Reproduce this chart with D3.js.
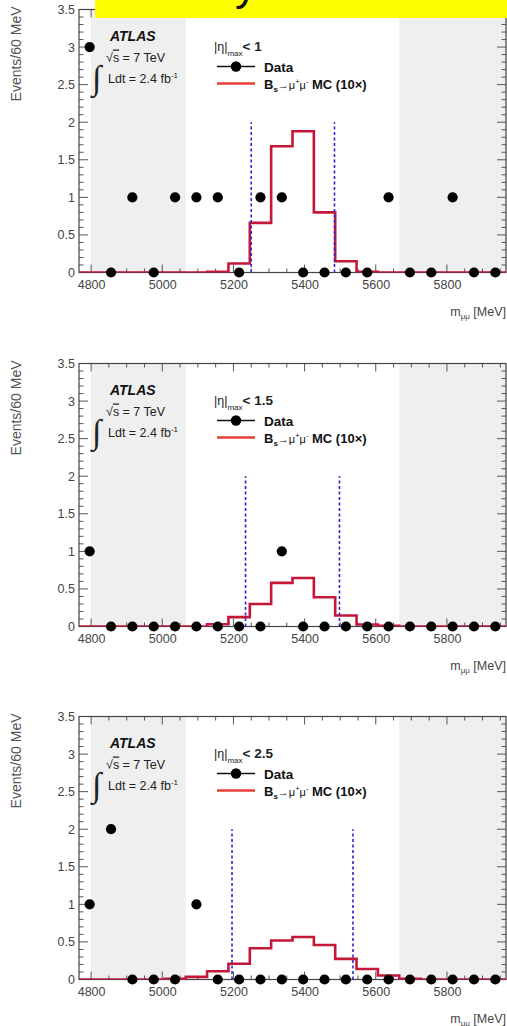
<!DOCTYPE html>
<html><head><meta charset="utf-8">
<script src="https://cdn.jsdelivr.net/npm/d3@7"></script>
<style>body{margin:0;background:#fff;} svg{display:block;font-family:"Liberation Sans",Arial,Helvetica,sans-serif;}</style>
</head><body><svg id="c" width="507" height="1026"></svg>
<script>
// ---------------- data ----------------
const binCenters = [4796,4856,4916,4976,5036,5096,5156,5216,5276,5336,5396,5456,5516,5576,5636,5696,5756,5816,5876,5936];
const binWidth = 60;
const xDomain = [4766, 5966];
const yDomain = [0, 3.5];
const xTickValues = [4800, 5000, 5200, 5400, 5600, 5800];
const xTickLabels = ["4800", "5000", "5200", "5400", "5600", "5800"];
const yTickValues = [0, 0.5, 1, 1.5, 2, 2.5, 3, 3.5];
const yTickLabels = ["0", "0.5", "1", "1.5", "2", "2.5", "3", "3.5"];
const etaCuts = ["< 1", "< 1.5", "< 2.5"];
const dataEta1  = [3,0,1,0,1,1,1,0,1,1,0,0,0,0,1,0,0,1,0,0];
const dataEta15 = [1,0,0,0,0,0,0,0,0,1,0,0,0,0,0,0,0,0,0,0];
const dataEta25 = [1,2,0,0,0,1,0,0,0,0,0,0,0,0,0,0,0,0,0,0];
const mcEta1  = [0,0,0,0,0,0,0.01,0.12,0.66,1.68,1.88,0.80,0.15,0.01,0,0,0,0,0,0];
const mcEta15 = [0,0,0,0,0,0,0.03,0.125,0.30,0.58,0.645,0.39,0.147,0.027,0.01,0,0,0,0,0];
const mcEta25 = [0,0,0,0,0.01,0.035,0.11,0.21,0.415,0.52,0.565,0.46,0.275,0.14,0.053,0.01,0,0,0,0];
const signalWindows = [[5250,5484],[5234,5498],[5196,5536]];
const windowTop = 2;
const sidebands = [[4800,5066],[5666,5966]];
const xTitle = "[MeV]";
const yTitle = "Events/60 MeV";
const bannerText = "Study";

const panels = [
  {data: dataEta1, mc: mcEta1, cut: etaCuts[0], win: signalWindows[0]},
  {data: dataEta15, mc: mcEta15, cut: etaCuts[1], win: signalWindows[1]},
  {data: dataEta25, mc: mcEta25, cut: etaCuts[2], win: signalWindows[2]}
];

// ---------------- layout ----------------
const left = 79, right = 506, panelH = 263;
const tops = [9.5, 363.5, 716.5];
const svg = d3.select("#c");
const x = d3.scaleLinear().domain(xDomain).range([left, right]);

panels.forEach((p, i) => {
  const T = tops[i], B = T + panelH;
  const y = d3.scaleLinear().domain(yDomain).range([B, T]);
  const g = svg.append("g");
  const clipId = "clip" + i;
  svg.append("clipPath").attr("id", clipId).append("rect")
    .attr("x", left).attr("y", T - 6).attr("width", right - left).attr("height", panelH + 6);

  // sidebands
  g.selectAll(".sb").data(sidebands).join("rect")
    .attr("x", d => x(d[0])).attr("y", T).attr("width", d => x(d[1]) - x(d[0])).attr("height", panelH)
    .attr("fill", "#efefef").attr("clip-path", `url(#${clipId})`);

  // ticks (major + minor, inward on all four sides)
  const xMinor = d3.range(4800, 5966, 50);
  const yMinor = d3.range(0, 3.5001, 0.1);
  const tg = g.append("g").attr("stroke", "#555").attr("stroke-width", 1);
  xMinor.forEach(v => {
    const L = (v % 200 === 0) ? 8 : 4;
    tg.append("line").attr("x1", x(v)).attr("x2", x(v)).attr("y1", B).attr("y2", B - L);
    tg.append("line").attr("x1", x(v)).attr("x2", x(v)).attr("y1", T).attr("y2", T + L);
  });
  yMinor.forEach((v, k) => {
    const L = (k % 5 === 0) ? 9 : 4.5;
    tg.append("line").attr("x1", left).attr("x2", left + L).attr("y1", y(v)).attr("y2", y(v));
    tg.append("line").attr("x1", right).attr("x2", right - L).attr("y1", y(v)).attr("y2", y(v));
  });

  // tick labels via d3 axes
  const ax = g.append("g").attr("transform", `translate(0,${B})`)
    .call(d3.axisBottom(x).tickValues(xTickValues).tickFormat((d, k) => xTickLabels[k]).tickSize(0).tickPadding(8));
  ax.select(".domain").remove();
  ax.selectAll("text").attr("font-size", 12.5).attr("fill", "#444").attr("font-family", "Liberation Sans");
  const ay = g.append("g").attr("transform", `translate(${left},0)`)
    .call(d3.axisLeft(y).tickValues(yTickValues).tickFormat((d, k) => yTickLabels[k]).tickSize(0).tickPadding(4));
  ay.select(".domain").remove();
  ay.selectAll("text").attr("font-size", 12.5).attr("fill", "#444").attr("font-family", "Liberation Sans");

  // frame
  g.append("rect").attr("x", left).attr("y", T).attr("width", right - left).attr("height", panelH)
    .attr("fill", "none").attr("stroke", "#444").attr("stroke-width", 1.2);

  // MC histogram (step)
  const pts = p.mc.map((v, k) => [binCenters[k] - binWidth / 2, v]);
  pts.push([binCenters[binCenters.length - 1] + binWidth / 2, p.mc[p.mc.length - 1]]);
  const line = d3.line().x(d => x(d[0])).y(d => y(d[1])).curve(d3.curveStepAfter);
  g.append("path").datum(pts).attr("d", line).attr("fill", "none")
    .attr("stroke", "#c5173a").attr("stroke-width", 2.6).attr("clip-path", `url(#${clipId})`);

  // signal window lines
  g.selectAll(".win").data(p.win).join("line")
    .attr("x1", d => x(d)).attr("x2", d => x(d)).attr("y1", y(0)).attr("y2", y(windowTop))
    .attr("stroke", "#2a2ad0").attr("stroke-width", 1.6).attr("stroke-dasharray", "3,2.5");

  // data points
  g.selectAll(".pt").data(p.data).join("circle")
    .attr("cx", (d, k) => x(binCenters[k])).attr("cy", d => y(d)).attr("r", 5.1).attr("fill", "#000");

  // axis titles
  svg.append("text").attr("transform", `translate(21,${T - 3}) rotate(-90)`).attr("text-anchor", "end")
    .attr("font-size", 14).attr("fill", "#555").text(yTitle);
  const xt = svg.append("text").attr("x", 506).attr("y", B + 43).attr("text-anchor", "end")
    .attr("font-size", 12.5).attr("fill", "#444");
  xt.append("tspan").text("m");
  xt.append("tspan").attr("font-size", 8).attr("dy", 3).text("μμ");
  xt.append("tspan").attr("dy", -3).text(" " + xTitle);

  // ATLAS labels
  svg.append("text").attr("x", 110).attr("y", T + 31).attr("font-size", 14).attr("font-weight", "bold")
    .attr("font-style", "italic").attr("fill", "#111").text("ATLAS");
  const s = svg.append("text").attr("x", 106).attr("y", T + 52).attr("font-size", 12.5).attr("fill", "#222");
  s.append("tspan").text("√");
  s.append("tspan").attr("text-decoration", "overline").text("s");
  s.append("tspan").text(" = 7 TeV");
  svg.append("text").attr("x", 92).attr("y", T + 79).attr("font-size", 34).attr("fill", "#222")
    .attr("font-family", "DejaVu Sans").attr("font-weight", "200").text("∫");
  const l = svg.append("text").attr("x", 108).attr("y", T + 73).attr("font-size", 12.5).attr("fill", "#222");
  l.append("tspan").text("Ldt = 2.4 fb");
  l.append("tspan").attr("font-size", 8).attr("dy", -5).text("-1");

  // legend
  const e = svg.append("text").attr("x", 214).attr("y", T + 41).attr("font-size", 12.5).attr("fill", "#222");
  e.append("tspan").text("|η|");
  e.append("tspan").attr("font-size", 8).attr("dy", 5).text("max");
  e.append("tspan").attr("dy", -5).attr("font-weight", "bold").attr("font-size", 13.5).text(p.cut);
  svg.append("line").attr("x1", 217).attr("x2", 255).attr("y1", T + 57).attr("y2", T + 57)
    .attr("stroke", "#111").attr("stroke-width", 1.3);
  svg.append("circle").attr("cx", 236).attr("cy", T + 57).attr("r", 5.2).attr("fill", "#000");
  svg.append("text").attr("x", 264).attr("y", T + 62).attr("font-size", 13.5).attr("font-weight", "bold")
    .attr("fill", "#111").text("Data");
  svg.append("line").attr("x1", 217).attr("x2", 255).attr("y1", T + 74).attr("y2", T + 74)
    .attr("stroke", "#e8403a").attr("stroke-width", 2.4);
  const m = svg.append("text").attr("x", 264).attr("y", T + 79).attr("font-size", 13).attr("fill", "#111");
  m.append("tspan").attr("font-weight", "bold").text("B");
  m.append("tspan").attr("font-weight", "bold").attr("font-size", 8).attr("dy", 3).text("s");
  m.append("tspan").attr("dy", -3).attr("font-size", 11).text("→μ");
  m.append("tspan").attr("font-size", 7.5).attr("dy", -5).text("+");
  m.append("tspan").attr("font-size", 11).attr("dy", 5).text("μ");
  m.append("tspan").attr("font-size", 7.5).attr("dy", -5).text("-");
  m.append("tspan").attr("dy", 5).attr("font-weight", "bold").text(" MC (10×)");
});

// top banner (mostly cut off at the top edge, as in the reference)
svg.append("rect").attr("x", 95).attr("y", 0).attr("width", 412).attr("height", 18).attr("fill", "#ffff00");
svg.append("text").attr("x", 257).attr("y", 0).attr("text-anchor", "end").attr("font-size", 44)
  .attr("fill", "#111").text(bannerText);
</script></body></html>
